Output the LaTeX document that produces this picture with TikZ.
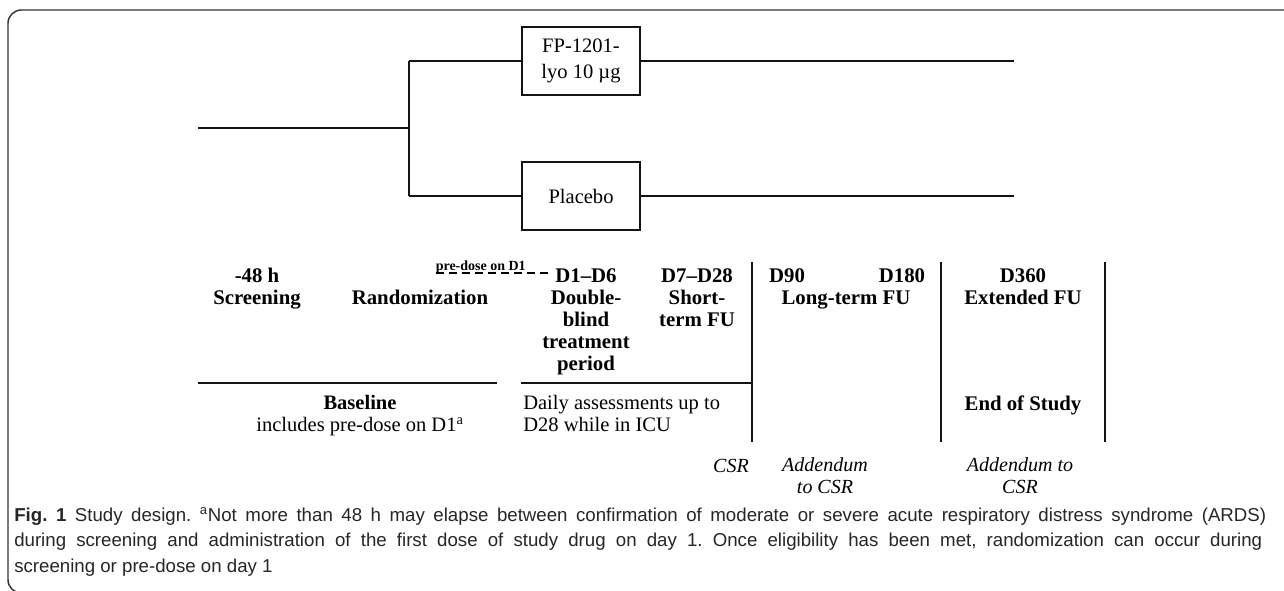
\documentclass[tikz,border=0pt]{standalone}
\usepackage{fontspec}
\setmainfont{Liberation Serif}
\newfontfamily\capfont{Liberation Sans}
\begin{document}
\begin{tikzpicture}[x=0.75pt,y=-0.75pt,
  ln/.style={line width=1.1pt,draw=black!92},
  armbox/.style={draw=black!92,line width=1.1pt,minimum width=88.5pt,minimum height=51pt,inner sep=0pt,align=center,font=\fontsize{15.4}{19.3}\selectfont},
  lab/.style={anchor=base,inner sep=0pt,align=center,font=\fontsize{15.6}{16.5}\selectfont\bfseries},
  reg/.style={anchor=base,inner sep=0pt,align=center,font=\fontsize{15.4}{15.8}\selectfont},
  rep/.style={anchor=base,inner sep=0pt,align=center,font=\fontsize{15}{15.8}\selectfont\itshape},
  tick/.style={line width=1.1pt,draw=black!92}]
\useasboundingbox (0,0) rectangle (1284,590);
\clip (0,0) rectangle (1284,590);
% frame
\draw[line width=1.1pt,draw=black!80,rounded corners=10] (8,10) rectangle (1320,593);
% top tree
\coordinate (start) at (198,128);
\coordinate (split) at (409,128);
\node[armbox] (drug) at (581,61) {FP-1201-\\lyo 10 µg};
\node[armbox] (plac) at (581,196) {Placebo};
\coordinate (drugend) at (1014,61);
\coordinate (placend) at (1014,196);
\draw[ln] (start) -- (split);
\draw[ln] (split |- drug.west) -- (split |- plac.west);
\draw[ln] (split |- drug.west) -- (drug.west);
\draw[ln] (split |- plac.west) -- (plac.west);
\draw[ln] (drug.east) -- (drugend);
\draw[ln] (plac.east) -- (placend);
% timeline labels (base = baseline of last line, 22px per line)
\node[lab] (scr) at (257,304) {-48 h\\Screening};
\node[lab] (rand) at (420,304) {Randomization};
\node[anchor=base east,inner sep=0pt,font=\fontsize{10.5}{11}\selectfont\bfseries] (pre) at (526,270) {pre-dose on D1};
\node[lab] (d16) at (586,370) {D1–D6\\Double-\\blind\\treatment\\period};
\node[lab] (d728) at (697,326) {D7–D28\\Short-\\term FU};
\node[lab] (d90) at (787,282) {D90};
\node[lab] (d180) at (902,282) {D180};
\node[lab] (ltfu) at (846,304) {Long-term FU};
\node[lab] (d360) at (1023,304) {D360\\Extended FU};
\coordinate (dashend) at (553,273);
\draw[line width=0.9pt,dash pattern=on 6pt off 3.8pt] (pre.base west |- dashend) -- (dashend);
% separators
\coordinate (h1a) at (198,383); \coordinate (h1b) at (497,383);
\coordinate (h2a) at (521,383); \coordinate (h2b) at (752,383);
\draw[tick] (h1a) -- (h1b);
\draw[tick] (h2a) -- (h2b);
\coordinate (v1t) at (752,262); \coordinate (v1b) at (752,442);
\coordinate (v2t) at (941,262); \coordinate (v2b) at (941,442);
\coordinate (v3t) at (1105,262); \coordinate (v3b) at (1105,442);
\draw[tick] (v1t) -- (v1b);
\draw[tick] (v2t) -- (v2b);
\draw[tick] (v3t) -- (v3b);
% lower texts (two lines, 21px apart)
\node[reg] (basel) at (360,431) {\textbf{Baseline}\\includes pre-dose on D1\textsuperscript{a}};
\node[reg,anchor=base west,align=left] (daily) at (523,431) {Daily assessments up to\\D28 while in ICU};
\node[lab] (eos) at (1023,410) {End of Study};
\node[rep] (csr1) at (731,472) {CSR};
\node[rep] (csr2) at (825,493) {Addendum\\to CSR};
\node[rep] (csr3) at (1020,493) {Addendum to\\CSR};
% caption
\node[anchor=base west,inner sep=0pt,align=left,text=black!85,font=\capfont\fontsize{14}{19.1}\selectfont\frenchspacing] (cap) at (14,572)
{\makebox[939pt][s]{\textbf{Fig.\ 1} Study design. \textsuperscript{a}Not more than 48 h may elapse between confirmation of moderate or severe acute respiratory distress syndrome (ARDS)}\\
\makebox[936pt][s]{during screening and administration of the first dose of study drug on day 1. Once eligibility has been met, randomization can occur during}\\
screening or pre-dose on day 1};
\end{tikzpicture}
\end{document}
